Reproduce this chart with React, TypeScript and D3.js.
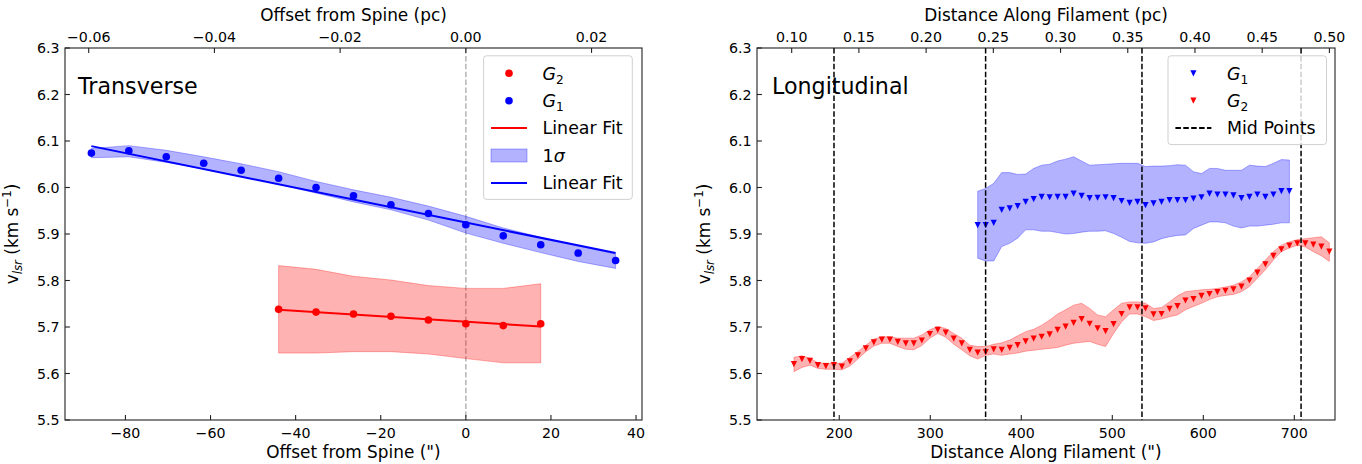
import React from 'react';
import * as d3 from 'd3';

// ---------------- DATA ----------------
// Transverse profile (offset from spine, arcsec)
const transOffsetG1 = [-88.0, -79.2, -70.4, -61.6, -52.8, -44.0, -35.2, -26.4, -17.6, -8.8, 0.0, 8.8, 17.6, 26.4, 35.2];
const transG1 = [6.074, 6.079, 6.066, 6.052, 6.037, 6.020, 6.000, 5.982, 5.963, 5.944, 5.920, 5.896, 5.877, 5.859, 5.843];
const transG1Upper = [6.084, 6.090, 6.080, 6.066, 6.051, 6.034, 6.013, 5.995, 5.979, 5.960, 5.938, 5.913, 5.893, 5.875, 5.857];
const transG1Lower = [6.064, 6.066, 6.054, 6.040, 6.024, 6.007, 5.988, 5.969, 5.952, 5.930, 5.902, 5.880, 5.860, 5.841, 5.826];

const transOffsetG2 = [-44.0, -35.2, -26.4, -17.6, -8.8, 0.0, 8.8, 17.6];
const transG2 = [5.738, 5.732, 5.728, 5.723, 5.715, 5.707, 5.703, 5.707];
const transG2Upper = [5.832, 5.824, 5.809, 5.801, 5.789, 5.783, 5.783, 5.793];
const transG2Lower = [5.644, 5.644, 5.647, 5.647, 5.642, 5.632, 5.623, 5.623];

const fitG1Offsets = [-88.0, 35.2];
const fitG1Values = [6.089, 5.859];
const fitG2Offsets = [-44.0, 17.6];
const fitG2Values = [5.737, 5.701];

// Longitudinal profile (distance along filament, arcsec)
const longDistance = [
  150.2, 159.0, 167.8, 176.5, 185.3, 194.1, 202.9, 211.7, 220.4, 229.2,
  238.0, 246.8, 255.6, 264.3, 273.1, 281.9, 290.7, 299.5, 308.2, 317.0,
  325.8, 334.6, 343.4, 352.1, 360.9, 369.7, 378.5, 387.3, 396.0, 404.8,
  413.6, 422.4, 431.2, 439.9, 448.7, 457.5, 466.3, 475.1, 483.8, 492.6,
  501.4, 510.2, 519.0, 527.7, 536.5, 545.3, 554.1, 562.9, 571.6, 580.4,
  589.2, 598.0, 606.8, 615.5, 624.3, 633.1, 641.9, 650.7, 659.4, 668.2,
  677.0, 685.8, 694.6, 703.3, 712.1, 720.9, 729.7, 738.5,
];
const longG2 = [
  5.620, 5.631, 5.627, 5.618, 5.616, 5.618, 5.615, 5.626, 5.639, 5.654,
  5.667, 5.673, 5.673, 5.668, 5.665, 5.665, 5.671, 5.685, 5.694, 5.688,
  5.675, 5.665, 5.651, 5.645, 5.646, 5.652, 5.651, 5.655, 5.661, 5.669,
  5.675, 5.679, 5.684, 5.694, 5.701, 5.709, 5.717, 5.707, 5.697, 5.691,
  5.706, 5.728, 5.742, 5.742, 5.740, 5.727, 5.728, 5.739, 5.745, 5.757,
  5.760, 5.767, 5.771, 5.775, 5.778, 5.781, 5.787, 5.800, 5.817, 5.835,
  5.853, 5.867, 5.875, 5.880, 5.880, 5.877, 5.873, 5.862,
];
const longG2Upper = [
  5.635, 5.638, 5.633, 5.623, 5.622, 5.622, 5.622, 5.635, 5.647, 5.661,
  5.674, 5.679, 5.679, 5.676, 5.676, 5.676, 5.683, 5.694, 5.701, 5.697,
  5.686, 5.676, 5.661, 5.658, 5.658, 5.663, 5.666, 5.672, 5.681, 5.690,
  5.695, 5.704, 5.715, 5.728, 5.737, 5.747, 5.751, 5.740, 5.726, 5.722,
  5.737, 5.751, 5.754, 5.754, 5.751, 5.740, 5.742, 5.754, 5.767, 5.776,
  5.778, 5.780, 5.781, 5.783, 5.786, 5.790, 5.797, 5.808, 5.826, 5.844,
  5.862, 5.876, 5.883, 5.888, 5.890, 5.892, 5.894, 5.881,
];
const longG2Lower = [
  5.604, 5.613, 5.618, 5.611, 5.609, 5.609, 5.608, 5.616, 5.631, 5.647,
  5.659, 5.665, 5.665, 5.658, 5.652, 5.651, 5.660, 5.676, 5.686, 5.678,
  5.663, 5.651, 5.638, 5.631, 5.639, 5.642, 5.639, 5.642, 5.644, 5.648,
  5.650, 5.652, 5.654, 5.656, 5.661, 5.665, 5.667, 5.669, 5.663, 5.658,
  5.686, 5.711, 5.728, 5.728, 5.722, 5.714, 5.717, 5.722, 5.726, 5.737,
  5.744, 5.751, 5.759, 5.765, 5.768, 5.770, 5.776, 5.787, 5.805, 5.823,
  5.844, 5.862, 5.870, 5.876, 5.872, 5.862, 5.853, 5.841,
];
const longG1Distance = [
  352.1, 360.9, 369.7, 378.5, 387.3, 396.0, 404.8, 413.6, 422.4, 431.2,
  439.9, 448.7, 457.5, 466.3, 475.1, 483.8, 492.6, 501.4, 510.2, 519.0,
  527.7, 536.5, 545.3, 554.1, 562.9, 571.6, 580.4, 589.2, 598.0, 606.8,
  615.5, 624.3, 633.1, 641.9, 650.7, 659.4, 668.2, 677.0, 685.8, 694.6,
];
const longG1 = [
  5.919, 5.919, 5.924, 5.952, 5.955, 5.960, 5.969, 5.975, 5.980, 5.979,
  5.980, 5.980, 5.987, 5.982, 5.977, 5.978, 5.979, 5.977, 5.971, 5.967,
  5.969, 5.962, 5.966, 5.969, 5.973, 5.973, 5.973, 5.976, 5.979, 5.987,
  5.985, 5.985, 5.983, 5.977, 5.980, 5.985, 5.980, 5.985, 5.992, 5.992,
];
const longG1Upper = [
  5.992, 5.998, 6.009, 6.032, 6.032, 6.028, 6.029, 6.041, 6.048, 6.050,
  6.057, 6.061, 6.066, 6.057, 6.048, 6.049, 6.050, 6.051, 6.052, 6.052,
  6.052, 6.045, 6.046, 6.046, 6.047, 6.049, 6.048, 6.034, 6.030, 6.041,
  6.041, 6.037, 6.037, 6.037, 6.048, 6.046, 6.045, 6.052, 6.060, 6.059,
];
const longG1Lower = [
  5.848, 5.842, 5.842, 5.873, 5.880, 5.891, 5.909, 5.909, 5.906, 5.906,
  5.903, 5.900, 5.901, 5.904, 5.906, 5.906, 5.907, 5.901, 5.893, 5.884,
  5.881, 5.880, 5.883, 5.890, 5.894, 5.897, 5.898, 5.912, 5.919, 5.926,
  5.926, 5.924, 5.917, 5.913, 5.917, 5.917, 5.919, 5.921, 5.924, 5.924,
];
const midPoints = [194.2, 360.8, 532.6, 707.4];

// Ticks
const yTicks = [5.5, 5.6, 5.7, 5.8, 5.9, 6.0, 6.1, 6.2, 6.3];
const leftBottomTicks = [-80, -60, -40, -20, 0, 20, 40];
const leftTopTicks = [-0.06, -0.04, -0.02, 0.0, 0.02];
const rightBottomTicks = [200, 300, 400, 500, 600, 700];
const rightTopTicks = [0.1, 0.15, 0.2, 0.25, 0.3, 0.35, 0.4, 0.45, 0.5];
const PC_PER_ARCSEC = 0.000677;

// ---------------- LAYOUT ----------------
const W = 1362;
const H = 464;
const TOP = 48;
const BOTTOM = 420;
const FONT = "'DejaVu Sans', sans-serif";
const TICK_FS = 14.2;
const LABEL_FS = 16.9;
const LEG_FS = 17.4;
const TICK_LEN = 4.9;

const yScale = d3.scaleLinear().domain([5.5, 6.3]).range([BOTTOM, TOP]);
const xLeft = d3.scaleLinear().domain([-94.2, 41.4]).range([65, 642]);
const xRight = d3.scaleLinear().domain([109.6, 744.7]).range([757, 1335]);

const minus = (s: string) => s.replace(/-/g, '\u2212');

type Pt = { x: number; lo: number; hi: number };
const zipBand = (xs: number[], lo: number[], hi: number[]): Pt[] =>
  xs.map((x, i) => ({ x, lo: lo[i], hi: hi[i] }));

function Band({ data, xs, color }: { data: Pt[]; xs: d3.ScaleLinear<number, number>; color: string }) {
  const area = d3
    .area<Pt>()
    .x((d) => xs(d.x))
    .y0((d) => yScale(d.lo))
    .y1((d) => yScale(d.hi));
  return (
    <path d={area(data) || ''} fill={color} fillOpacity={0.3} stroke={color} strokeOpacity={0.3} strokeWidth={1} />
  );
}

function tri(cx: number, cy: number, s = 3.1) {
  return `M${cx - s},${cy - s}L${cx + s},${cy - s}L${cx},${cy + s}Z`;
}

function YLabel({ x }: { x: number }) {
  const cy = (TOP + BOTTOM) / 2;
  return (
    <text
      transform={`translate(${x},${cy}) rotate(-90)`}
      textAnchor="middle"
      fontFamily={FONT}
      fontSize={LABEL_FS}
      fill="#000"
    >
      v
      <tspan fontSize={LABEL_FS * 0.7} fontStyle="italic" dy={4}>
        lsr
      </tspan>
      <tspan dy={-4}> (km s</tspan>
      <tspan fontSize={LABEL_FS * 0.7} dy={-7}>
        {'\u22121'}
      </tspan>
      <tspan dy={7}>)</tspan>
    </text>
  );
}

function Frame({
  xs,
  bottomTicks,
  topTicks,
  bottomLabel,
  topLabel,
  topFmt,
}: {
  xs: d3.ScaleLinear<number, number>;
  bottomTicks: number[];
  topTicks: number[];
  bottomLabel: string;
  topLabel: string;
  topFmt: (v: number) => string;
}) {
  const [x0, x1] = xs.range();
  const cx = (x0 + x1) / 2;
  return (
    <g>
      <rect x={x0} y={TOP} width={x1 - x0} height={BOTTOM - TOP} fill="none" stroke="#222" strokeWidth={1.1} />
      {bottomTicks.map((t) => (
        <g key={'b' + t}>
          <line x1={xs(t)} x2={xs(t)} y1={BOTTOM} y2={BOTTOM - TICK_LEN} stroke="#222" strokeWidth={1.1} />
          <text x={xs(t)} y={437.5} textAnchor="middle" fontFamily={FONT} fontSize={TICK_FS}>
            {minus(String(t))}
          </text>
        </g>
      ))}
      {topTicks.map((t) => {
        const px = xs(t / PC_PER_ARCSEC);
        return (
          <g key={'t' + t}>
            <line x1={px} x2={px} y1={TOP} y2={TOP + TICK_LEN} stroke="#222" strokeWidth={1.1} />
            <text x={px} y={42} textAnchor="middle" fontFamily={FONT} fontSize={TICK_FS}>
              {minus(topFmt(t))}
            </text>
          </g>
        );
      })}
      {yTicks.map((t) => (
        <g key={'y' + t}>
          <line x1={x0} x2={x0 + TICK_LEN} y1={yScale(t)} y2={yScale(t)} stroke="#222" strokeWidth={1.1} />
          <text x={x0 - 5.5} y={yScale(t)} dy="0.36em" textAnchor="end" fontFamily={FONT} fontSize={TICK_FS}>
            {t.toFixed(1)}
          </text>
        </g>
      ))}
      <text x={cx} y={458} textAnchor="middle" fontFamily={FONT} fontSize={LABEL_FS}>
        {bottomLabel}
      </text>
      <text x={cx} y={21} textAnchor="middle" fontFamily={FONT} fontSize={LABEL_FS}>
        {topLabel}
      </text>
    </g>
  );
}

function GLabel({ x, y, sub }: { x: number; y: number; sub: string }) {
  return (
    <text x={x} y={y} dy="0.36em" fontFamily={FONT} fontSize={LEG_FS}>
      <tspan fontStyle="italic">G</tspan>
      <tspan fontSize={LEG_FS * 0.7} dy={4}>
        {sub}
      </tspan>
    </text>
  );
}

const ROW = 27.4;

function LeftLegend() {
  const bx = 483.6;
  const by = 55.8;
  const rows = [73.3, 73.3 + ROW, 73.3 + 2 * ROW, 73.3 + 3 * ROW, 73.3 + 4 * ROW];
  const hx0 = bx + 7.4;
  const hx1 = bx + 43.4;
  const hm = (hx0 + hx1) / 2;
  const tx = bx + 59;
  return (
    <g>
      <rect x={bx} y={by} width={148.7} height={143.6} rx={3} fill="#fff" fillOpacity={0.8} stroke="#d0d0d0" strokeWidth={1} />
      <circle cx={hm} cy={rows[0]} r={3.8} fill="red" />
      <GLabel x={tx} y={rows[0]} sub="2" />
      <circle cx={hm} cy={rows[1]} r={3.8} fill="blue" />
      <GLabel x={tx} y={rows[1]} sub="1" />
      <line x1={hx0} x2={hx1} y1={rows[2]} y2={rows[2]} stroke="red" strokeWidth={2} />
      <text x={tx} y={rows[2]} dy="0.36em" fontFamily={FONT} fontSize={LEG_FS}>
        Linear Fit
      </text>
      <rect x={hx0} y={rows[3] - 6.5} width={hx1 - hx0} height={13} fill="blue" fillOpacity={0.3} stroke="blue" strokeOpacity={0.3} />
      <text x={tx} y={rows[3]} dy="0.36em" fontFamily={FONT} fontSize={LEG_FS}>
        1<tspan fontStyle="italic">σ</tspan>
      </text>
      <line x1={hx0} x2={hx1} y1={rows[4]} y2={rows[4]} stroke="blue" strokeWidth={2} />
      <text x={tx} y={rows[4]} dy="0.36em" fontFamily={FONT} fontSize={LEG_FS}>
        Linear Fit
      </text>
    </g>
  );
}

function RightLegend() {
  const bx = 1168;
  const by = 55.8;
  const rows = [73.3, 73.3 + ROW, 73.3 + 2 * ROW];
  const hx0 = bx + 7.4;
  const hx1 = bx + 43.4;
  const hm = (hx0 + hx1) / 2;
  const tx = bx + 59;
  return (
    <g>
      <rect x={bx} y={by} width={158.5} height={88.8} rx={3} fill="#fff" fillOpacity={0.8} stroke="#d0d0d0" strokeWidth={1} />
      <path d={tri(hm, rows[0])} fill="blue" />
      <GLabel x={tx} y={rows[0]} sub="1" />
      <path d={tri(hm, rows[1])} fill="red" />
      <GLabel x={tx} y={rows[1]} sub="2" />
      <line x1={hx0} x2={hx1} y1={rows[2]} y2={rows[2]} stroke="#000" strokeWidth={2} strokeDasharray="5.5,2.4" />
      <text x={tx} y={rows[2]} dy="0.36em" fontFamily={FONT} fontSize={LEG_FS}>
        Mid Points
      </text>
    </g>
  );
}

export default function App() {
  const g1TransBand = zipBand(transOffsetG1, transG1Lower, transG1Upper);
  const g2TransBand = zipBand(transOffsetG2, transG2Lower, transG2Upper);
  const g1LongBand = zipBand(longG1Distance, longG1Lower, longG1Upper);
  const g2LongBand = zipBand(longDistance, longG2Lower, longG2Upper);
  const line = d3.line<[number, number]>();

  return (
    <svg
      width={W}
      height={H}
      viewBox={`0 0 ${W} ${H}`}
      style={{ position: 'absolute', left: 0, top: 0, background: '#fff' }}
    >
      <rect x={0} y={0} width={W} height={H} fill="#fff" />

      {/* ---------- Left: Transverse ---------- */}
      <line
        x1={xLeft(0)}
        x2={xLeft(0)}
        y1={TOP}
        y2={BOTTOM}
        stroke="#b5b5b5"
        strokeWidth={1.5}
        strokeDasharray="5.5,2.4"
      />
      <Band data={g2TransBand} xs={xLeft} color="red" />
      <Band data={g1TransBand} xs={xLeft} color="blue" />
      <path
        d={line(fitG2Offsets.map((o, i) => [xLeft(o), yScale(fitG2Values[i])])) || ''}
        stroke="red"
        strokeWidth={2}
        fill="none"
      />
      <path
        d={line(fitG1Offsets.map((o, i) => [xLeft(o), yScale(fitG1Values[i])])) || ''}
        stroke="blue"
        strokeWidth={2}
        fill="none"
      />
      {transOffsetG2.map((o, i) => (
        <circle key={'r' + i} cx={xLeft(o)} cy={yScale(transG2[i])} r={3.8} fill="red" />
      ))}
      {transOffsetG1.map((o, i) => (
        <circle key={'b' + i} cx={xLeft(o)} cy={yScale(transG1[i])} r={3.8} fill="blue" />
      ))}
      <Frame
        xs={xLeft}
        bottomTicks={leftBottomTicks}
        topTicks={leftTopTicks}
        bottomLabel={'Offset from Spine (")'}
        topLabel="Offset from Spine (pc)"
        topFmt={(v) => v.toFixed(2)}
      />
      <YLabel x={18} />
      <text x={78} y={94} fontFamily={FONT} fontSize={22.2}>
        Transverse
      </text>
      <LeftLegend />

      {/* ---------- Right: Longitudinal ---------- */}
      <Band data={g1LongBand} xs={xRight} color="blue" />
      <Band data={g2LongBand} xs={xRight} color="red" />
      {longG1Distance.map((d, i) => (
        <path key={'lb' + i} d={tri(xRight(d), yScale(longG1[i]))} fill="blue" />
      ))}
      {longDistance.map((d, i) => (
        <path key={'lr' + i} d={tri(xRight(d), yScale(longG2[i]))} fill="red" />
      ))}
      {midPoints.map((m) => (
        <line
          key={'m' + m}
          x1={xRight(m)}
          x2={xRight(m)}
          y1={TOP}
          y2={BOTTOM}
          stroke="#000"
          strokeWidth={1.5}
          strokeDasharray="5.5,2.4"
        />
      ))}
      <Frame
        xs={xRight}
        bottomTicks={rightBottomTicks}
        topTicks={rightTopTicks}
        bottomLabel={'Distance Along Filament (")'}
        topLabel="Distance Along Filament (pc)"
        topFmt={(v) => v.toFixed(2)}
      />
      <YLabel x={710} />
      <text x={772} y={94} fontFamily={FONT} fontSize={22.2}>
        Longitudinal
      </text>
      <RightLegend />
    </svg>
  );
}
